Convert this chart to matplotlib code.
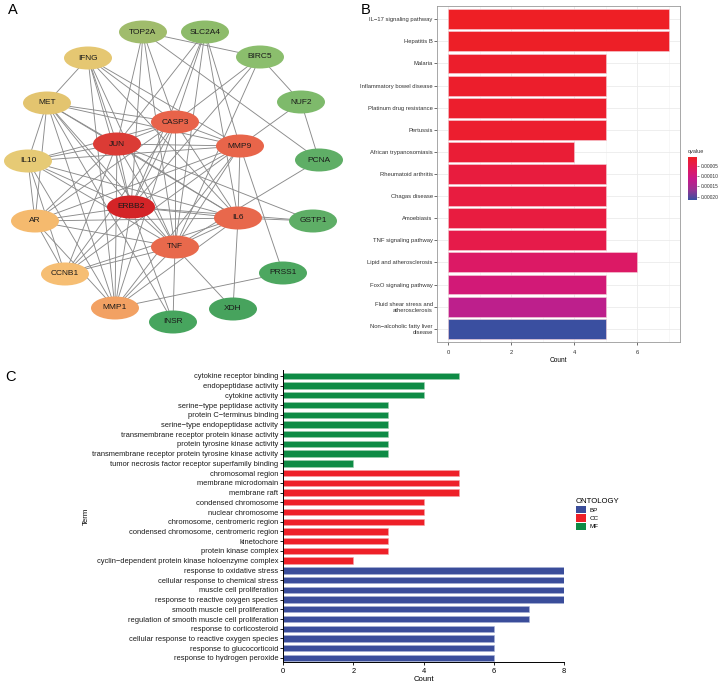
"""Figure: PPI network (A), KEGG enrichment (B), GO enrichment (C)"""
import matplotlib
matplotlib.use('Agg')
import matplotlib.pyplot as plt
import numpy as np
from matplotlib.patches import Ellipse, Patch
from matplotlib.colors import LinearSegmentedColormap, Normalize
from matplotlib.colorbar import ColorbarBase

plt.rcParams['font.family'] = ['Liberation Sans', 'DejaVu Sans']

# ---------------- Panel A data: network ----------------
node_names = ['TOP2A', 'SLC2A4', 'IFNG', 'BIRC5', 'MET', 'NUF2', 'CASP3', 'JUN',
              'MMP9', 'IL10', 'PCNA', 'ERBB2', 'AR', 'IL6', 'GSTP1', 'TNF',
              'CCNB1', 'PRSS1', 'MMP1', 'XDH', 'INSR']
# layout in pixel units of the panel
layout = {
    'TOP2A': (143, 32), 'SLC2A4': (205, 32), 'IFNG': (88, 58), 'BIRC5': (260, 57),
    'MET': (47, 103), 'NUF2': (301, 102), 'CASP3': (175, 122), 'JUN': (117, 144),
    'MMP9': (240, 146), 'IL10': (28, 161), 'PCNA': (319, 160), 'ERBB2': (131, 207),
    'AR': (35, 221), 'IL6': (238, 218), 'GSTP1': (313, 221), 'TNF': (175, 247),
    'CCNB1': (65, 274), 'PRSS1': (283, 273), 'MMP1': (115, 308), 'XDH': (233, 309),
    'INSR': (173, 322),
}
node_colors = {
    'JUN': '#DB3B35', 'ERBB2': '#D42427', 'CASP3': '#E8634A', 'MMP9': '#E8654A',
    'IL6': '#E8684C', 'TNF': '#E8694C', 'IFNG': '#E5C772', 'MET': '#E3C46F',
    'IL10': '#E6CA75', 'AR': '#F5BA6E', 'CCNB1': '#F6BE73', 'MMP1': '#F2A163',
    'TOP2A': '#A0BC6C', 'SLC2A4': '#8DBB6A', 'BIRC5': '#8BBE6D', 'NUF2': '#7EBA6B',
    'PCNA': '#5FAE66', 'GSTP1': '#5EAE66', 'PRSS1': '#4DA760', 'XDH': '#47A35D',
    'INSR': '#47A55E',
}
hubs = ['JUN', 'ERBB2', 'CASP3', 'MMP9', 'IL6', 'TNF']
edges = [(a, b) for i, a in enumerate(hubs) for b in hubs[i + 1:]]
edges += [
    ('JUN', 'TOP2A'), ('JUN', 'SLC2A4'), ('JUN', 'IFNG'), ('JUN', 'MET'), ('JUN', 'IL10'),
    ('JUN', 'AR'), ('JUN', 'CCNB1'), ('JUN', 'MMP1'), ('JUN', 'GSTP1'),
    ('ERBB2', 'TOP2A'), ('ERBB2', 'SLC2A4'), ('ERBB2', 'IFNG'), ('ERBB2', 'MET'),
    ('ERBB2', 'IL10'), ('ERBB2', 'AR'), ('ERBB2', 'CCNB1'), ('ERBB2', 'MMP1'),
    ('ERBB2', 'INSR'), ('ERBB2', 'BIRC5'), ('ERBB2', 'GSTP1'),
    ('CASP3', 'SLC2A4'), ('CASP3', 'IFNG'), ('CASP3', 'MET'), ('CASP3', 'IL10'),
    ('CASP3', 'AR'), ('CASP3', 'CCNB1'), ('CASP3', 'MMP1'), ('CASP3', 'BIRC5'),
    ('CASP3', 'TOP2A'),
    ('MMP9', 'IFNG'), ('MMP9', 'MET'), ('MMP9', 'IL10'), ('MMP9', 'AR'), ('MMP9', 'CCNB1'),
    ('MMP9', 'MMP1'), ('MMP9', 'NUF2'), ('MMP9', 'PRSS1'), ('MMP9', 'SLC2A4'),
    ('IL6', 'IFNG'), ('IL6', 'IL10'), ('IL6', 'AR'), ('IL6', 'CCNB1'), ('IL6', 'MMP1'),
    ('IL6', 'GSTP1'), ('IL6', 'XDH'), ('IL6', 'SLC2A4'), ('IL6', 'MET'),
    ('TNF', 'IFNG'), ('TNF', 'MET'), ('TNF', 'IL10'), ('TNF', 'AR'), ('TNF', 'CCNB1'),
    ('TNF', 'MMP1'), ('TNF', 'INSR'), ('TNF', 'XDH'), ('TNF', 'SLC2A4'),
    ('TNF', 'BIRC5'), ('TNF', 'PCNA'), ('TNF', 'TOP2A'),
    ('IFNG', 'MET'), ('IL10', 'AR'), ('IL10', 'CCNB1'), ('IL10', 'MET'), ('AR', 'CCNB1'),
    ('AR', 'MMP1'), ('MET', 'AR'), ('MET', 'MMP1'), ('MET', 'INSR'), ('IL10', 'MMP1'),
    ('BIRC5', 'NUF2'), ('NUF2', 'PCNA'), ('TOP2A', 'BIRC5'), ('TOP2A', 'PCNA'),
    ('MMP1', 'PRSS1'), ('IFNG', 'MMP1'),
]

# ---------------- Panel B data: KEGG ----------------
kegg_terms = ['IL\u221217 signaling pathway', 'Hepatitis B', 'Malaria',
              'Inflammatory bowel disease', 'Platinum drug resistance', 'Pertussis',
              'African trypanosomiasis', 'Rheumatoid arthritis', 'Chagas disease',
              'Amoebiasis', 'TNF signaling pathway', 'Lipid and atherosclerosis',
              'FoxO signaling pathway', 'Fluid shear stress and\natherosclerosis',
              'Non\u2212alcoholic fatty liver\ndisease']
kegg_count = [7, 7, 5, 5, 5, 5, 4, 5, 5, 5, 5, 6, 5, 5, 5]
kegg_qvalue = [0.000005, 0.000008, 0.000012, 0.000013, 0.000014, 0.000015, 0.000022,
               0.000030, 0.000032, 0.000033, 0.000042, 0.000070, 0.000090, 0.000125,
               0.000217]

# ---------------- Panel C data: GO ----------------
mf_terms = ['cytokine receptor binding', 'endopeptidase activity', 'cytokine activity',
            'serine\u2212type peptidase activity', 'protein C\u2212terminus binding',
            'serine\u2212type endopeptidase activity',
            'transmembrane receptor protein kinase activity',
            'protein tyrosine kinase activity',
            'transmembrane receptor protein tyrosine kinase activity',
            'tumor necrosis factor receptor superfamily binding']
mf_count = [5, 4, 4, 3, 3, 3, 3, 3, 3, 2]
cc_terms = ['chromosomal region', 'membrane microdomain', 'membrane raft',
            'condensed chromosome', 'nuclear chromosome', 'chromosome, centromeric region',
            'condensed chromosome, centromeric region', 'kinetochore',
            'protein kinase complex',
            'cyclin\u2212dependent protein kinase holoenzyme complex']
cc_count = [5, 5, 5, 4, 4, 4, 3, 3, 3, 2]
bp_terms = ['response to oxidative stress', 'cellular response to chemical stress',
            'muscle cell proliferation', 'response to reactive oxygen species',
            'smooth muscle cell proliferation',
            'regulation of smooth muscle cell proliferation', 'response to corticosteroid',
            'cellular response to reactive oxygen species', 'response to glucocorticoid',
            'response to hydrogen peroxide']
bp_count = [8, 8, 8, 8, 7, 7, 6, 6, 6, 6]
ontologies = ['BP', 'CC', 'MF']


def px(x0, y0, x1, y1):
    """pixel box -> figure fraction rect"""
    W, H = 720, 684
    return [x0 / W, 1 - y1 / H, (x1 - x0) / W, (y1 - y0) / H]


fig = plt.figure(figsize=(7.2, 6.84), dpi=100)

# ---------------- Panel A ----------------
axa = fig.add_axes(px(0, 0, 355, 340))
axa.set_xlim(0, 355)
axa.set_ylim(340, 0)
axa.axis('off')
for a, b in edges:
    (x1, y1), (x2, y2) = layout[a], layout[b]
    axa.plot([x1, x2], [y1, y2], color='#8A8A8A', lw=0.65, zorder=1)
for name in node_names:
    x, y = layout[name]
    axa.add_patch(Ellipse((x, y), 48, 23, facecolor=node_colors[name],
                          edgecolor='none', zorder=2))
    axa.text(x, y, name, ha='center', va='center', fontsize=6, color='#1a1a1a', zorder=3)

# ---------------- Panel B ----------------
q_cmap = LinearSegmentedColormap.from_list(
    'q', ['#EE1F25', '#E2195A', '#C8198A', '#9C3293', '#3A4FA0'])
q_norm = Normalize(vmin=0.000005, vmax=0.000217)

axb = fig.add_axes(px(437, 6, 680, 342))
nb = len(kegg_terms)
yb = np.arange(nb)[::-1] + 1
axb.barh(yb, kegg_count, height=0.9, color=q_cmap(q_norm(kegg_qvalue)),
         edgecolor='#F6D0D8', linewidth=0.4, zorder=2)
axb.set_xlim(-0.35, 7.35)
axb.set_ylim(0.4, nb + 0.6)
axb.set_yticks(yb)
axb.set_yticklabels(kegg_terms, fontsize=4.2, color='#333333')
axb.set_xticks([0, 2, 4, 6])
axb.set_xticks([1, 3, 5, 7], minor=True)
axb.tick_params(axis='x', labelsize=4.2, colors='#333333', length=2, width=0.5)
axb.tick_params(axis='x', which='minor', length=0)
axb.tick_params(axis='y', length=2, width=0.5, colors='#333333', pad=1)
axb.grid(which='major', color='#EBEBEB', lw=0.6, zorder=0)
axb.grid(which='minor', axis='x', color='#F2F2F2', lw=0.4, zorder=0)
axb.set_axisbelow(True)
for s in axb.spines.values():
    s.set_color('#999999')
    s.set_linewidth(0.6)
axb.set_xlabel('Count', fontsize=4.7, labelpad=2)

cax = fig.add_axes(px(688, 157, 697, 200))
cb = ColorbarBase(cax, cmap=q_cmap, norm=q_norm, orientation='vertical')
cax.invert_yaxis()
cb.set_ticks([0.00005, 0.00010, 0.00015, 0.00020])
cb.set_ticklabels(['0.00005', '0.00010', '0.00015', '0.00020'])
cax.tick_params(labelsize=3.5, length=1.5, width=0.4, colors='#333333', pad=1)
cb.outline.set_visible(False)
cax.set_title('qvalue', fontsize=4, loc='left', pad=3, color='#333333')

# ---------------- Panel C ----------------
ont_colors = {'BP': '#3A4D9A', 'CC': '#EE2028', 'MF': '#0E8B45'}
ont_edges = {'BP': '#A8B2D6', 'CC': '#F6A2A6', 'MF': '#9CCFB0'}
go_terms = mf_terms + cc_terms + bp_terms
go_count = mf_count + cc_count + bp_count
go_ont = ['MF'] * len(mf_terms) + ['CC'] * len(cc_terms) + ['BP'] * len(bp_terms)

axc = fig.add_axes(px(283, 370, 564, 662))
yc = np.arange(len(go_terms))[::-1]
axc.barh(yc, go_count, height=0.66, color=[ont_colors[o] for o in go_ont],
         edgecolor=[ont_edges[o] for o in go_ont], linewidth=0.4)
axc.set_xlim(0, 8)
axc.set_ylim(-0.42, len(go_terms) - 0.4)
axc.set_yticks(yc)
axc.set_yticklabels(go_terms, fontsize=5.4, color='#1a1a1a')
axc.set_xticks([0, 2, 4, 6, 8])
axc.tick_params(axis='x', labelsize=5.4, length=2.5, width=0.6, pad=1.5)
axc.tick_params(axis='y', length=2.5, width=0.6, pad=1)
axc.spines['top'].set_visible(False)
axc.spines['right'].set_visible(False)
axc.spines['left'].set_linewidth(0.7)
axc.spines['bottom'].set_linewidth(0.7)
axc.set_xlabel('Count', fontsize=5.6, labelpad=1)
axc.set_ylabel('Term', fontsize=5.6, labelpad=2)

handles = [Patch(facecolor=ont_colors[o], edgecolor='none', label=o) for o in ontologies]
leg = fig.legend(handles=handles, title='ONTOLOGY', loc='upper left',
                 bbox_to_anchor=(570 / 720, 1 - 492 / 684), frameon=False,
                 fontsize=4.5, title_fontsize=5.6, handlelength=1.6, handleheight=1.4,
                 handletextpad=0.6, labelspacing=0.2)
leg._legend_box.align = 'left'

# panel letters
fig.text(8 / 720, 1 - 10 / 684, 'A', fontsize=10.5, va='center', ha='left')
fig.text(361 / 720, 1 - 10 / 684, 'B', fontsize=10.5, va='center', ha='left')
fig.text(5 / 720, 1 - 377 / 684, 'C', fontsize=10.5, va='center', ha='left')

fig.savefig('out.png', dpi=100)
plt.close(fig)
